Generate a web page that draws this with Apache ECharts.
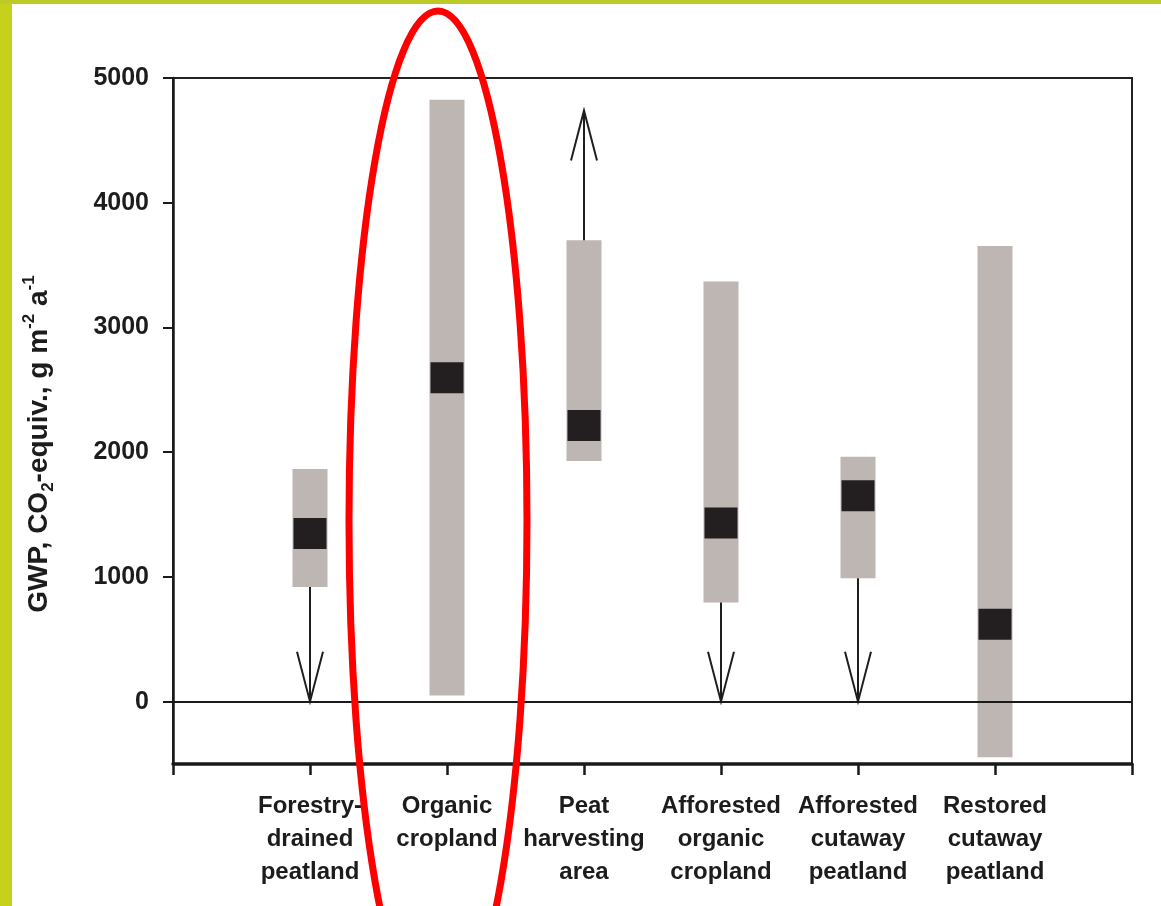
<!DOCTYPE html>
<html>
<head>
<meta charset="utf-8">
<script src="https://cdn.jsdelivr.net/npm/echarts@6/dist/echarts.min.js"></script>
<style>
  html, body { margin: 0; padding: 0; background: #fff; }
  #chart { width: 1161px; height: 906px; }
</style>
</head>
<body>
<div id="chart"></div>
<script>
// Land-use categories (x positions 1..6 on the axis)
const categories = [
  'Forestry-\ndrained\npeatland',
  'Organic\ncropland',
  'Peat\nharvesting\narea',
  'Afforested\norganic\ncropland',
  'Afforested\ncutaway\npeatland',
  'Restored\ncutaway\npeatland'
];
// Range of reported GWP values (g CO2-eq m-2 a-1)
const rangeLow  = [920, 50, 1930, 795, 990, -445];
const rangeHigh = [1865, 4825, 3700, 3368, 1963, 3654];
// Mean value (black square)
const meanValue = [1348, 2596, 2213, 1432, 1651, 621];
// Arrows extending beyond the range (null = no arrow)
const arrowEnd  = [0, null, 4740, 0, 0, null];
// Y-axis tick values
const yTicks = [0, 1000, 2000, 3000, 4000, 5000];

const FONT = "'Liberation Sans', Arial, Helvetica, sans-serif";
const TEXT = '#1c1c1c';

const rangeData = categories.map((c, k) => [k + 1, rangeLow[k], rangeHigh[k]]);
const meanData = categories.map((c, k) => [k + 1, meanValue[k]]);
const arrowData = [];
arrowEnd.forEach((e, k) => {
  if (e === null) return;
  const start = e < rangeLow[k] ? rangeLow[k] : rangeHigh[k];
  arrowData.push([k + 1, start, e]);
});

const chart = echarts.init(document.getElementById('chart'), null, { renderer: 'canvas' });

chart.setOption({
  backgroundColor: '#ffffff',
  animation: false,
  grid: {
    left: 173, right: 29, top: 78, bottom: 142,
    show: true, borderColor: '#222', borderWidth: 2, backgroundColor: 'transparent'
  },
  xAxis: {
    type: 'value', min: 0, max: 7, interval: 1,
    splitLine: { show: false },
    axisLine: { show: true, onZero: false, lineStyle: { color: '#1a1a1a', width: 3.5 } },
    axisTick: { show: true, inside: false, length: 11, lineStyle: { color: '#1a1a1a', width: 2.5 } },
    axisLabel: {
      formatter: v => (v >= 1 && v <= 6) ? categories[v - 1] : '',
      fontFamily: FONT, fontSize: 24, fontWeight: 'bold', lineHeight: 33, color: TEXT,
      margin: 26, showMinLabel: true, showMaxLabel: true
    }
  },
  yAxis: {
    type: 'value', min: -500, max: 5000, interval: 500,
    splitLine: { show: false },
    axisLine: { show: true, onZero: false, lineStyle: { color: '#1a1a1a', width: 2.5 } },
    axisTick: {
      show: true, inside: false, length: 10, customValues: yTicks,
      lineStyle: { color: '#1a1a1a', width: 2 }
    },
    axisLabel: {
      customValues: yTicks,
      formatter: v => String(v),
      fontFamily: FONT, fontSize: 25, fontWeight: 'bold', color: TEXT, margin: 24
    }
  },
  series: [
    {
      // grey range bars
      type: 'custom',
      data: rangeData,
      z: 2,
      renderItem: (params, api) => {
        const x = api.value(0);
        const top = api.coord([x, api.value(2)]);
        const bot = api.coord([x, api.value(1)]);
        const w = 35;
        return {
          type: 'rect',
          shape: { x: top[0] - w / 2, y: top[1], width: w, height: bot[1] - top[1] },
          style: { fill: '#bdb6b3' }
        };
      }
    },
    {
      // arrows for values outside the shown range
      type: 'custom',
      data: arrowData,
      z: 3,
      renderItem: (params, api) => {
        const x = api.value(0);
        const s = api.coord([x, api.value(1)]);
        const e = api.coord([x, api.value(2)]);
        const dir = e[1] > s[1] ? 1 : -1;
        const len = 50, half = 13;
        const stroke = { stroke: '#1e1e1e', lineWidth: 2, fill: null };
        return {
          type: 'group',
          children: [
            { type: 'line', shape: { x1: s[0], y1: s[1], x2: e[0], y2: e[1] }, style: stroke },
            {
              type: 'polyline',
              shape: { points: [[e[0] - half, e[1] - dir * len], [e[0], e[1]], [e[0] + half, e[1] - dir * len]] },
              style: stroke
            }
          ]
        };
      }
    },
    {
      // mean values
      type: 'scatter',
      data: meanData,
      symbol: 'rect',
      symbolSize: [33, 31],
      itemStyle: { color: '#231f20', opacity: 1 },
      z: 4,
      markLine: {
        silent: true,
        symbol: ['none', 'none'],
        label: { show: false },
        lineStyle: { color: '#1a1a1a', width: 1.8, type: 'solid' },
        data: [{ yAxis: 0 }]
      }
    }
  ],
  graphic: [
    // green frame strips
    { type: 'rect', shape: { x: 0, y: 0, width: 12, height: 906 }, style: { fill: '#c6d11c' }, z: 0 },
    { type: 'rect', shape: { x: 0, y: 0, width: 1161, height: 4 }, style: { fill: '#bccb26' }, z: 0 },
    // y-axis title
    {
      type: 'text',
      x: 39, y: 444,
      rotation: Math.PI / 2,
      style: {
        text: '{a|GWP, CO}{sub|2}{a|-equiv., g m}{sup|-2}{a| a}{sup|-1}',
        align: 'center', verticalAlign: 'middle',
        rich: {
          a: { fontFamily: FONT, fontSize: 28, fontWeight: 'bold', lineHeight: 36, fill: TEXT },
          sub: { fontFamily: FONT, fontSize: 17, fontWeight: 'bold', lineHeight: 36, verticalAlign: 'bottom', fill: TEXT },
          sup: { fontFamily: FONT, fontSize: 17, fontWeight: 'bold', lineHeight: 36, verticalAlign: 'top', fill: TEXT }
        }
      },
      z: 10
    },
    // red highlight around organic cropland
    {
      type: 'ellipse',
      shape: { cx: 438, cy: 521, rx: 89, ry: 510 },
      style: { fill: null, stroke: '#ff0000', lineWidth: 7 },
      z: 100
    }
  ]
});
</script>
</body>
</html>
